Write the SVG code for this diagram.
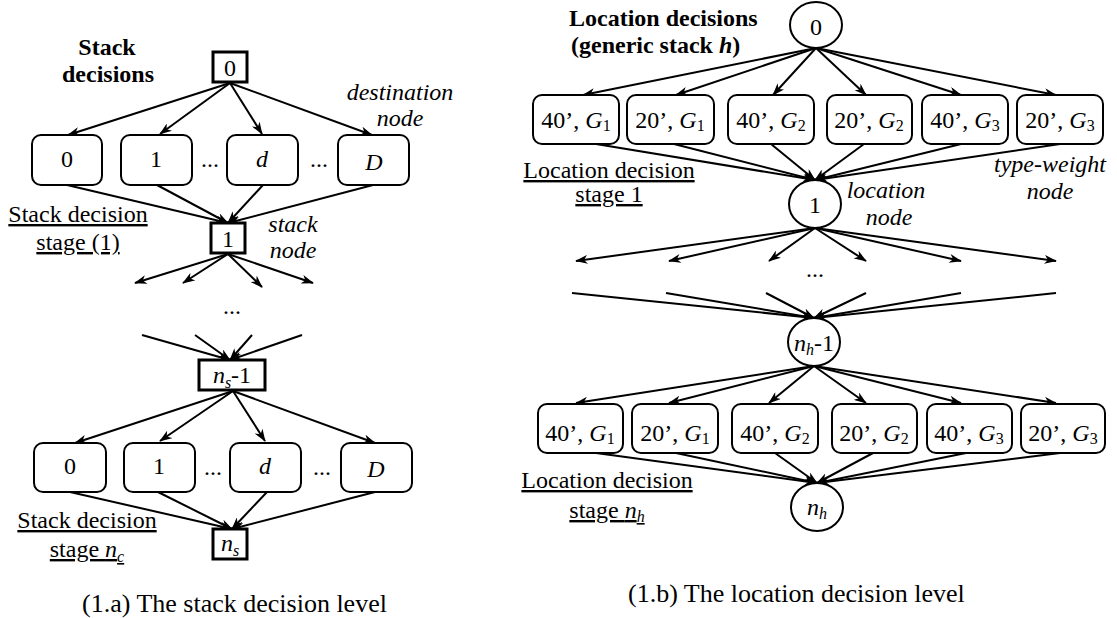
<svg xmlns="http://www.w3.org/2000/svg" width="1117" height="618" viewBox="0 0 1117 618">
<style>
text{font-family:"Liberation Serif","Times New Roman",serif;font-size:24px;fill:#000}
.b{font-weight:bold}
.i{font-style:italic}
.m{text-anchor:middle}
.u{text-decoration:underline}
.cap{font-size:26px}
.sub{font-size:16px}
.box{fill:#fff;stroke:#000;stroke-width:2}
.sq{fill:#fff;stroke:#000;stroke-width:3}
.cir{fill:#fff;stroke:#000;stroke-width:2}
#connectors line{stroke:#000;stroke-width:2;marker-end:url(#ah)}
</style>
<defs>
<marker id="ah" viewBox="0 0 14 10" refX="13" refY="5" markerWidth="13" markerHeight="9" markerUnits="userSpaceOnUse" orient="auto">
<path d="M0,0 L14,5 L0,10 L4,5 Z" fill="#000"/>
</marker>
</defs>
<rect width="1117" height="618" fill="#fff"/>

<g id="connectors">
<!-- left panel -->
<line x1="230" y1="83" x2="68" y2="135"/>
<line x1="230" y1="83" x2="160" y2="134"/>
<line x1="230" y1="83" x2="262" y2="134"/>
<line x1="230" y1="83" x2="372" y2="135"/>
<line x1="67" y1="185" x2="228" y2="223"/>
<line x1="157" y1="185" x2="228" y2="223"/>
<line x1="263" y1="185" x2="228" y2="223"/>
<line x1="373" y1="185" x2="228" y2="223"/>
<line x1="228" y1="254" x2="135" y2="283"/>
<line x1="228" y1="254" x2="183" y2="283"/>
<line x1="228" y1="254" x2="262" y2="287"/>
<line x1="228" y1="254" x2="313" y2="283"/>
<line x1="142" y1="335" x2="230" y2="360"/>
<line x1="195" y1="335" x2="230" y2="360"/>
<line x1="252" y1="335" x2="230" y2="360"/>
<line x1="302" y1="335" x2="230" y2="360"/>
<line x1="233" y1="391" x2="75" y2="443"/>
<line x1="233" y1="391" x2="160" y2="441"/>
<line x1="233" y1="391" x2="265" y2="441"/>
<line x1="233" y1="391" x2="375" y2="443"/>
<line x1="70" y1="492" x2="232" y2="529"/>
<line x1="158" y1="492" x2="232" y2="529"/>
<line x1="267" y1="492" x2="232" y2="529"/>
<line x1="375" y1="492" x2="232" y2="529"/>
<!-- right panel -->
<line x1="816" y1="48" x2="583" y2="95"/>
<line x1="816" y1="48" x2="676" y2="95"/>
<line x1="816" y1="48" x2="773" y2="95"/>
<line x1="816" y1="48" x2="866" y2="95"/>
<line x1="816" y1="48" x2="961" y2="95"/>
<line x1="816" y1="48" x2="1056" y2="95"/>
<line x1="596" y1="144" x2="815" y2="180"/>
<line x1="674" y1="144" x2="815" y2="180"/>
<line x1="771" y1="144" x2="815" y2="180"/>
<line x1="864" y1="144" x2="815" y2="180"/>
<line x1="961" y1="144" x2="815" y2="180"/>
<line x1="1060" y1="144" x2="815" y2="180"/>
<line x1="815" y1="228" x2="576" y2="261"/>
<line x1="815" y1="228" x2="669" y2="261"/>
<line x1="815" y1="228" x2="769" y2="261"/>
<line x1="815" y1="228" x2="866" y2="261"/>
<line x1="815" y1="228" x2="961" y2="261"/>
<line x1="815" y1="228" x2="1056" y2="261"/>
<line x1="572" y1="293" x2="814" y2="318"/>
<line x1="666" y1="293" x2="814" y2="318"/>
<line x1="766" y1="293" x2="814" y2="318"/>
<line x1="866" y1="293" x2="814" y2="318"/>
<line x1="961" y1="293" x2="814" y2="318"/>
<line x1="1056" y1="293" x2="814" y2="318"/>
<line x1="814" y1="366" x2="576" y2="403"/>
<line x1="814" y1="366" x2="669" y2="403"/>
<line x1="814" y1="366" x2="769" y2="403"/>
<line x1="814" y1="366" x2="866" y2="403"/>
<line x1="814" y1="366" x2="961" y2="403"/>
<line x1="814" y1="366" x2="1056" y2="403"/>
<line x1="596" y1="453" x2="817" y2="483"/>
<line x1="676" y1="453" x2="817" y2="483"/>
<line x1="775" y1="453" x2="817" y2="483"/>
<line x1="873" y1="453" x2="817" y2="483"/>
<line x1="966" y1="453" x2="817" y2="483"/>
<line x1="1060" y1="453" x2="817" y2="483"/>
</g>

<!-- left panel nodes -->
<g id="s0"><rect class="sq" x="213" y="52" width="34" height="30"/><text class="m" x="230" y="76">0</text></g>
<g id="d0a"><rect class="box" x="32" y="135" width="70" height="50" rx="9"/><text class="m" x="67" y="167">0</text></g>
<g id="d1a"><rect class="box" x="121" y="135" width="71" height="50" rx="9"/><text class="m" x="156" y="167">1</text></g>
<g id="dda"><rect class="box" x="227" y="135" width="71" height="50" rx="9"/><text class="m i" x="262" y="167">d</text></g>
<g id="dDa"><rect class="box" x="338" y="135" width="71" height="50" rx="9"/><text class="m i" x="374" y="170">D</text></g>
<g id="s1"><rect class="sq" x="211" y="223" width="34" height="30"/><text class="m" x="228" y="247">1</text></g>
<g id="sn1"><rect class="sq" x="199" y="360" width="66" height="30"/><text class="m" x="232" y="383"><tspan class="i">n</tspan><tspan class="i sub" dy="5">s</tspan><tspan dy="-5">-1</tspan></text></g>
<g id="d0b"><rect class="box" x="34" y="443" width="72" height="49" rx="9"/><text class="m" x="70" y="474">0</text></g>
<g id="d1b"><rect class="box" x="124" y="443" width="71" height="49" rx="9"/><text class="m" x="159" y="474">1</text></g>
<g id="ddb"><rect class="box" x="230" y="443" width="71" height="49" rx="9"/><text class="m i" x="265" y="474">d</text></g>
<g id="dDb"><rect class="box" x="341" y="443" width="71" height="49" rx="9"/><text class="m i" x="376" y="477">D</text></g>
<g id="sn"><rect class="sq" x="213" y="529" width="34" height="30"/><text class="m" x="230" y="551"><tspan class="i">n</tspan><tspan class="i sub" dy="5">s</tspan></text></g>

<!-- left panel labels -->
<g id="left-labels">
<text class="b m" x="107" y="55">Stack</text>
<text class="b m" x="108" y="82">decisions</text>
<text class="m" x="210" y="167">...</text>
<text class="m" x="319" y="167">...</text>
<text class="i m" x="400" y="100">destination</text>
<text class="i m" x="400" y="126">node</text>
<text class="u m" x="78" y="222">Stack decision</text>
<text class="u m" x="78" y="250">stage (1)</text>
<text class="i m" x="293" y="232">stack</text>
<text class="i m" x="293" y="258">node</text>
<text class="m" x="232" y="314">...</text>
<text class="m" x="213" y="475">...</text>
<text class="m" x="322" y="475">...</text>
<text class="u m" x="87" y="528">Stack decision</text>
<text class="u m" x="87" y="557">stage <tspan class="i">n</tspan><tspan class="i sub" dy="5">c</tspan></text>
<text class="cap" x="82" y="612">(1.a) The stack decision level</text>
</g>

<!-- right panel nodes -->
<g id="l0"><ellipse class="cir" cx="816" cy="25" rx="26" ry="23"/><text class="m" x="816" y="35">0</text></g>
<g id="t1a"><rect class="box" x="533" y="95" width="86" height="49" rx="9"/><text class="m" x="576" y="128">40’, <tspan class="i">G</tspan><tspan class="sub" dy="3">1</tspan></text></g>
<g id="t2a"><rect class="box" x="627" y="95" width="87" height="49" rx="9"/><text class="m" x="670" y="128">20’, <tspan class="i">G</tspan><tspan class="sub" dy="3">1</tspan></text></g>
<g id="t3a"><rect class="box" x="728" y="95" width="86" height="49" rx="9"/><text class="m" x="771" y="128">40’, <tspan class="i">G</tspan><tspan class="sub" dy="3">2</tspan></text></g>
<g id="t4a"><rect class="box" x="827" y="95" width="85" height="49" rx="9"/><text class="m" x="869" y="128">20’, <tspan class="i">G</tspan><tspan class="sub" dy="3">2</tspan></text></g>
<g id="t5a"><rect class="box" x="922" y="95" width="86" height="49" rx="9"/><text class="m" x="965" y="128">40’, <tspan class="i">G</tspan><tspan class="sub" dy="3">3</tspan></text></g>
<g id="t6a"><rect class="box" x="1017" y="95" width="86" height="49" rx="9"/><text class="m" x="1060" y="128">20’, <tspan class="i">G</tspan><tspan class="sub" dy="3">3</tspan></text></g>
<g id="l1"><ellipse class="cir" cx="815" cy="204" rx="26" ry="24"/><text class="m" x="815" y="213">1</text></g>
<g id="lnm1"><ellipse class="cir" cx="814" cy="342" rx="26" ry="24"/><text class="m" x="814" y="351"><tspan class="i">n</tspan><tspan class="i sub" dy="4">h</tspan><tspan dy="-4">-1</tspan></text></g>
<g id="t1b"><rect class="box" x="538" y="404" width="85" height="49" rx="9"/><text class="m" x="580" y="441">40’, <tspan class="i">G</tspan><tspan class="sub" dy="3">1</tspan></text></g>
<g id="t2b"><rect class="box" x="632" y="404" width="86" height="49" rx="9"/><text class="m" x="675" y="441">20’, <tspan class="i">G</tspan><tspan class="sub" dy="3">1</tspan></text></g>
<g id="t3b"><rect class="box" x="732" y="404" width="86" height="49" rx="9"/><text class="m" x="775" y="441">40’, <tspan class="i">G</tspan><tspan class="sub" dy="3">2</tspan></text></g>
<g id="t4b"><rect class="box" x="832" y="404" width="85" height="49" rx="9"/><text class="m" x="874" y="441">20’, <tspan class="i">G</tspan><tspan class="sub" dy="3">2</tspan></text></g>
<g id="t5b"><rect class="box" x="927" y="404" width="85" height="49" rx="9"/><text class="m" x="969" y="441">40’, <tspan class="i">G</tspan><tspan class="sub" dy="3">3</tspan></text></g>
<g id="t6b"><rect class="box" x="1021" y="404" width="84" height="49" rx="9"/><text class="m" x="1063" y="441">20’, <tspan class="i">G</tspan><tspan class="sub" dy="3">3</tspan></text></g>
<g id="ln"><ellipse class="cir" cx="817" cy="507" rx="26" ry="24"/><text class="m" x="817" y="515"><tspan class="i">n</tspan><tspan class="i sub" dy="4">h</tspan></text></g>

<!-- right panel labels -->
<g id="right-labels">
<text class="b" x="569" y="26">Location decisions</text>
<text class="b" x="571" y="53">(generic stack <tspan class="i">h</tspan>)</text>
<text class="u m" x="609" y="178">Location decision</text>
<text class="u m" x="609" y="202">stage 1</text>
<text class="i m" x="886" y="198">location</text>
<text class="i m" x="889" y="225">node</text>
<text class="i m" x="1050" y="172">type-weight</text>
<text class="i m" x="1050" y="199">node</text>
<text class="m" x="815" y="277">...</text>
<text class="u m" x="607" y="488">Location decision</text>
<text class="u m" x="607" y="518">stage <tspan class="i">n</tspan><tspan class="i sub" dy="4">h</tspan></text>
<text class="cap" x="628" y="602">(1.b) The location decision level</text>
</g>
</svg>
